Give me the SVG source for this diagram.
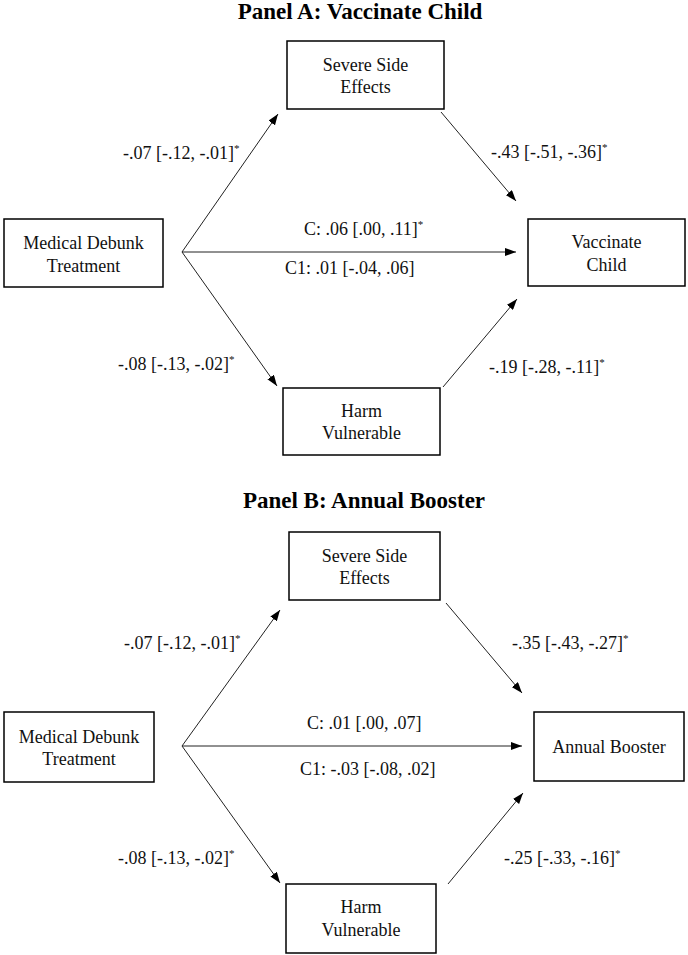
<svg xmlns="http://www.w3.org/2000/svg" width="688" height="955" viewBox="0 0 688 955">
<style>
.box{fill:#fff;stroke:#000;stroke-width:1.5}
.t{font-size:18px;fill:#111}
.c{text-anchor:middle}
.title{font-size:23px;font-weight:bold;fill:#000;text-anchor:middle}
.sup{font-size:11px}
.ar{stroke:#222;stroke-width:1;fill:none;marker-end:url(#ah)}
</style>
<defs>
<marker id="ah" markerUnits="userSpaceOnUse" markerWidth="11" markerHeight="8" refX="11" refY="4" orient="auto">
<path d="M0,0 L11,4 L0,8 z" fill="#000"/>
</marker>
</defs>
<rect width="688" height="955" fill="#fff"/>

<g font-family="Liberation Serif, Times New Roman, Tinos, serif">
<text class="title" x="360" y="19">Panel A: Vaccinate Child</text>
<text class="title" x="364" y="508">Panel B: Annual Booster</text>

<g id="connectors">
<line class="ar" x1="182" y1="252" x2="278" y2="114"/>
<line class="ar" x1="182" y1="252" x2="516" y2="252"/>
<line class="ar" x1="182" y1="252" x2="277" y2="386"/>
<line class="ar" x1="441" y1="112" x2="516" y2="201"/>
<line class="ar" x1="443" y1="387" x2="517" y2="299"/>

<line class="ar" x1="182" y1="746" x2="280" y2="610"/>
<line class="ar" x1="182" y1="746" x2="522" y2="746"/>
<line class="ar" x1="182" y1="746" x2="280" y2="883"/>
<line class="ar" x1="446" y1="603" x2="522" y2="693"/>
<line class="ar" x1="448" y1="884" x2="523" y2="793"/>
</g>

<g id="labels">
<text class="t" x="123" y="159">-.07 [-.12, -.01]<tspan class="sup" dy="-7">*</tspan></text>
<text class="t" x="491" y="158">-.43 [-.51, -.36]<tspan class="sup" dy="-7">*</tspan></text>
<text class="t" x="304" y="235">C: .06 [.00, .11]<tspan class="sup" dy="-7">*</tspan></text>
<text class="t" x="285" y="274">C1: .01 [-.04, .06]</text>
<text class="t" x="118" y="370">-.08 [-.13, -.02]<tspan class="sup" dy="-7">*</tspan></text>
<text class="t" x="489" y="373">-.19 [-.28, -.11]<tspan class="sup" dy="-7">*</tspan></text>

<text class="t" x="124" y="649">-.07 [-.12, -.01]<tspan class="sup" dy="-7">*</tspan></text>
<text class="t" x="512" y="649">-.35 [-.43, -.27]<tspan class="sup" dy="-7">*</tspan></text>
<text class="t" x="307" y="729">C: .01 [.00, .07]</text>
<text class="t" x="300" y="775">C1: -.03 [-.08, .02]</text>
<text class="t" x="118" y="864">-.08 [-.13, -.02]<tspan class="sup" dy="-7">*</tspan></text>
<text class="t" x="504" y="864">-.25 [-.33, -.16]<tspan class="sup" dy="-7">*</tspan></text>
</g>

<g id="a-severe">
<rect class="box" x="287" y="41" width="157" height="68"/>
<text class="t c" x="365.5" y="71">Severe Side</text>
<text class="t c" x="365.5" y="93">Effects</text>
</g>
<g id="a-treatment">
<rect class="box" x="4" y="219" width="159" height="68"/>
<text class="t c" x="83.5" y="249">Medical Debunk</text>
<text class="t c" x="83.5" y="272">Treatment</text>
</g>
<g id="a-vaccinate">
<rect class="box" x="528" y="219" width="157" height="67"/>
<text class="t c" x="606.5" y="248">Vaccinate</text>
<text class="t c" x="606.5" y="271">Child</text>
</g>
<g id="a-harm">
<rect class="box" x="283" y="388" width="157" height="67"/>
<text class="t c" x="361.5" y="417">Harm</text>
<text class="t c" x="361.5" y="439">Vulnerable</text>
</g>

<g id="b-severe">
<rect class="box" x="289" y="532" width="151" height="68"/>
<text class="t c" x="364.5" y="562">Severe Side</text>
<text class="t c" x="364.5" y="584">Effects</text>
</g>
<g id="b-treatment">
<rect class="box" x="4" y="712" width="150" height="70"/>
<text class="t c" x="79" y="743">Medical Debunk</text>
<text class="t c" x="79" y="765">Treatment</text>
</g>
<g id="b-booster">
<rect class="box" x="534" y="712" width="150" height="69"/>
<text class="t c" x="609" y="753">Annual Booster</text>
</g>
<g id="b-harm">
<rect class="box" x="286" y="884" width="150" height="69"/>
<text class="t c" x="361" y="913">Harm</text>
<text class="t c" x="361" y="936">Vulnerable</text>
</g>
</g>
</svg>
